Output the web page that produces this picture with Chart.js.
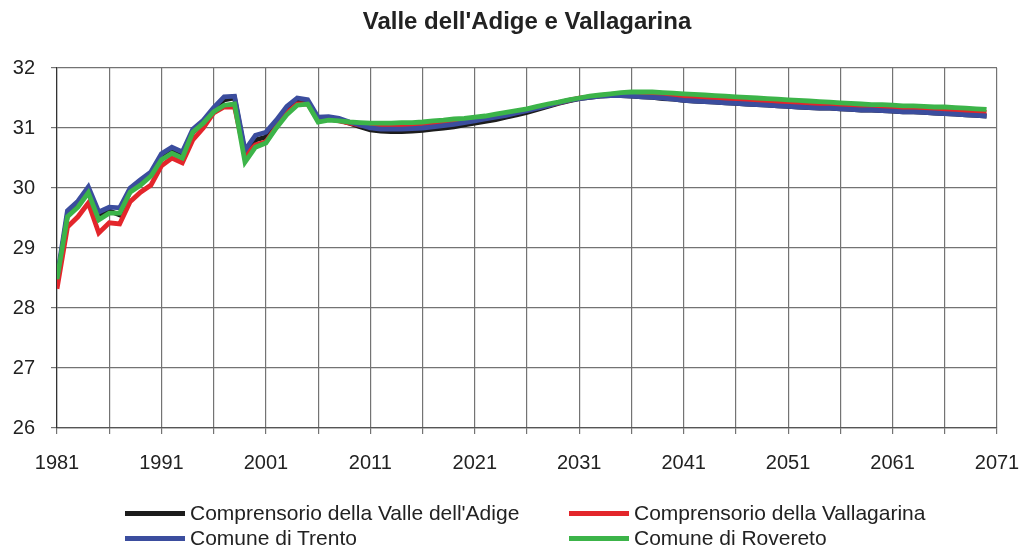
<!DOCTYPE html>
<html>
<head>
<meta charset="utf-8">
<script src="https://cdn.jsdelivr.net/npm/chart.js@4.4.1/dist/chart.umd.min.js"></script>
<style>
  body { margin: 0; background: #fff; }
  #wrap { position: relative; width: 1027px; height: 549px; }
  #legend { position: absolute; left: 0; top: 0; width: 1027px; height: 549px; pointer-events: none;
    font-family: 'Liberation Sans', Arial, sans-serif; font-size: 21px; color: #222; }
  .item { position: absolute; display: flex; align-items: center; white-space: nowrap; }
  .item span.swatch { display: inline-block; width: 60px; height: 5px; margin-right: 5px; }
</style>
</head>
<body>
<div id="wrap">
  <canvas id="ageChart" width="1027" height="549"></canvas>
  <div id="legend"></div>
</div>
<script>
const years = [];
for (let y = 1981; y <= 2070; y++) years.push(y);

const xTickYears = [1981, 1986, 1991, 1996, 2001, 2006, 2011, 2016, 2021, 2026, 2031,
  2036, 2041, 2046, 2051, 2056, 2061, 2066, 2071];
const xTickLabels = ['1981', '', '1991', '', '2001', '', '2011', '', '2021', '', '2031',
  '', '2041', '', '2051', '', '2061', '', '2071'];

const seriesNames = [
  "Comprensorio della Valle dell'Adige",
  'Comprensorio della Vallagarina',
  'Comune di Trento',
  'Comune di Rovereto',
];
const seriesColors = ['#1c1c1c', '#e3262b', '#3b4d9e', '#3cb449'];

const valleAdige = [
  28.45, 29.55, 29.72, 29.97, 29.52, 29.62, 29.55, 29.95, 30.10, 30.22,
  30.50, 30.62, 30.55, 30.93, 31.08, 31.30, 31.47, 31.50, 30.58, 30.80,
  30.85, 31.08, 31.30, 31.45, 31.43, 31.15, 31.17, 31.13, 31.08, 31.02,
  30.97, 30.95, 30.94, 30.94, 30.95, 30.96, 30.98, 31.00, 31.02, 31.05,
  31.08, 31.11, 31.14, 31.18, 31.22, 31.26, 31.31, 31.36, 31.41, 31.45,
  31.49, 31.51, 31.53, 31.54, 31.54, 31.53, 31.52, 31.51, 31.49, 31.48,
  31.46, 31.45, 31.44, 31.43, 31.42, 31.41, 31.40, 31.39, 31.38, 31.37,
  31.36, 31.35, 31.34, 31.33, 31.33, 31.32, 31.31, 31.30, 31.30, 31.29,
  31.28, 31.27, 31.27, 31.26, 31.25, 31.24, 31.23, 31.22, 31.21, 31.20,
];
const vallagarina = [
  28.32, 29.35, 29.52, 29.75, 29.25, 29.42, 29.40, 29.77, 29.93, 30.05,
  30.37, 30.50, 30.42, 30.80, 31.00, 31.25, 31.35, 31.35, 30.55, 30.72,
  30.77, 31.02, 31.25, 31.40, 31.40, 31.13, 31.15, 31.12, 31.08, 31.05,
  31.03, 31.02, 31.02, 31.03, 31.04, 31.05, 31.07, 31.09, 31.11, 31.12,
  31.14, 31.17, 31.20, 31.23, 31.26, 31.30, 31.34, 31.38, 31.42, 31.46,
  31.50, 31.52, 31.54, 31.56, 31.57, 31.57, 31.57, 31.57, 31.56, 31.55,
  31.53, 31.52, 31.51, 31.50, 31.49, 31.48, 31.47, 31.46, 31.45, 31.44,
  31.43, 31.42, 31.41, 31.40, 31.39, 31.38, 31.37, 31.37, 31.36, 31.35,
  31.34, 31.34, 31.33, 31.32, 31.31, 31.30, 31.29, 31.28, 31.27, 31.26,
];
const trento = [
  28.50, 29.62, 29.78, 30.02, 29.60, 29.68, 29.67, 30.00, 30.14, 30.27,
  30.57, 30.68, 30.60, 30.98, 31.13, 31.34, 31.52, 31.53, 30.63, 30.88,
  30.93, 31.13, 31.36, 31.50, 31.47, 31.18, 31.19, 31.16, 31.10, 31.05,
  31.00, 30.98, 30.98, 30.98, 30.99, 31.00, 31.02, 31.04, 31.06, 31.09,
  31.12, 31.15, 31.18, 31.21, 31.25, 31.29, 31.33, 31.37, 31.42, 31.46,
  31.49, 31.51, 31.53, 31.54, 31.54, 31.53, 31.52, 31.51, 31.50, 31.48,
  31.46, 31.45, 31.44, 31.43, 31.42, 31.41, 31.40, 31.39, 31.38, 31.37,
  31.36, 31.35, 31.34, 31.33, 31.33, 31.32, 31.31, 31.30, 31.30, 31.29,
  31.28, 31.27, 31.27, 31.26, 31.25, 31.24, 31.23, 31.22, 31.21, 31.20,
];
const rovereto = [
  28.48, 29.52, 29.68, 29.92, 29.47, 29.58, 29.58, 29.93, 30.05, 30.20,
  30.47, 30.58, 30.50, 30.93, 31.08, 31.27, 31.38, 31.40, 30.43, 30.68,
  30.75, 31.00, 31.22, 31.38, 31.40, 31.10, 31.13, 31.12, 31.10, 31.09,
  31.08, 31.08, 31.08, 31.09, 31.09, 31.10, 31.12, 31.13, 31.15, 31.16,
  31.18, 31.20, 31.23, 31.26, 31.29, 31.32, 31.36, 31.40, 31.43, 31.47,
  31.50, 31.53, 31.55, 31.57, 31.59, 31.60, 31.60, 31.60, 31.59, 31.58,
  31.57, 31.56, 31.55, 31.54, 31.53, 31.52, 31.51, 31.50, 31.49, 31.48,
  31.47, 31.46, 31.45, 31.44, 31.43, 31.42, 31.41, 31.40, 31.39, 31.39,
  31.38, 31.37, 31.37, 31.36, 31.35, 31.35, 31.34, 31.33, 31.32, 31.31,
];

const yTicks = [26, 27, 28, 29, 30, 31, 32];

const allSeries = [valleAdige, vallagarina, trento, rovereto];
// green on top, black at the bottom
const drawOrder = [4, 3, 2, 1];

const font = "'Liberation Sans', Arial, sans-serif";

const ctx = document.getElementById('ageChart').getContext('2d');
const ageChart = new Chart(ctx, {
  type: 'line',
  data: {
    datasets: allSeries.map((vals, i) => ({
      label: seriesNames[i],
      data: vals.map((v, j) => ({ x: years[j], y: v })),
      borderColor: seriesColors[i],
      backgroundColor: seriesColors[i],
      borderWidth: 4.8,
      pointRadius: 0,
      tension: 0,
      order: drawOrder[i],
    })),
  },
  options: {
    responsive: false,
    animation: false,
    devicePixelRatio: 1,
    layout: { padding: { left: 0, right: 30, top: 0, bottom: 0 } },
    plugins: {
      legend: { display: false },
      tooltip: { enabled: false },
      title: {
        display: true,
        fullSize: false,
        text: "Valle dell'Adige e Vallagarina",
        color: '#222',
        font: { family: font, size: 24, weight: 'bold' },
        padding: { top: 8, bottom: 31.2 },
      },
    },
    scales: {
      x: {
        type: 'linear',
        min: 1981,
        max: 2071,
        afterBuildTicks: (s) => { s.ticks = xTickYears.map((v) => ({ value: v })); },
        afterFit: (s) => {
          s.height = 121;
          s.paddingLeft = 0;
          s.paddingRight = 0;
        },
        ticks: {
          autoSkip: false,
          maxRotation: 0,
          padding: 17,
          color: '#222',
          font: { family: font, size: 20 },
          callback: (v) => xTickLabels[xTickYears.indexOf(v)],
        },
        grid: { color: '#737373', lineWidth: 1.2, tickLength: 6 },
        border: { color: '#555', width: 1.2 },
      },
      y: {
        min: 26,
        max: 32,
        afterBuildTicks: (s) => { s.ticks = yTicks.map((v) => ({ value: v })); },
        afterFit: (s) => { s.width = 57; },
        ticks: {
          padding: 16,
          color: '#222',
          font: { family: font, size: 20 },
        },
        grid: { color: '#737373', lineWidth: 1.2, tickLength: 6 },
        border: { color: '#333', width: 1.2 },
      },
    },
  },
});

// legend in two columns, as in the original
const legendPos = [[125, 513], [569, 513], [125, 538], [569, 538]];
const legendBox = document.getElementById('legend');
seriesNames.forEach((name, i) => {
  const el = document.createElement('div');
  el.className = 'item';
  el.style.left = legendPos[i][0] + 'px';
  el.style.top = (legendPos[i][1] - 12) + 'px';
  el.style.height = '24px';
  el.innerHTML = '<span class="swatch" style="background:' + seriesColors[i] + '"></span>' + name;
  legendBox.appendChild(el);
});
</script>
</body>
</html>
